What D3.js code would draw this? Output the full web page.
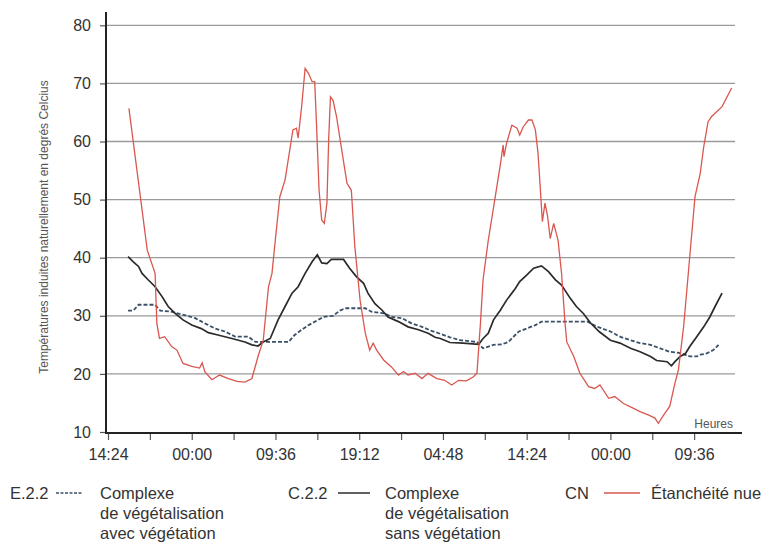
<!DOCTYPE html>
<html>
  <head>
    <meta charset="utf-8">
    <title>Températures induites</title>
    <script src="https://cdnjs.cloudflare.com/ajax/libs/d3/7.8.5/d3.min.js"></script>
    <style>
 body { margin: 0; background: white; }
 text { font-family: "Liberation Sans", Arial, sans-serif; fill: #333; }
 .tick text { font-size: 16px; }
 .grid { stroke: #9a9a9a; stroke-width: 1.3px; }
 .axisline { stroke: #222; stroke-width: 2px; }
 .legend { font-size: 16.5px; }
    </style>
  </head>
  <body>
    <svg id="viz" width="771" height="544"></svg>
    <script>

// time in hours since the first 14:24, temperatures in degrees C

var yTicks = [10, 20, 30, 40, 50, 60, 70, 80];
var xTickHours = [0, 4.8, 9.6, 14.4, 19.2, 24, 28.8, 33.6, 38.4, 43.2, 48, 52.8, 57.6, 62.4, 67.2];
var xTickLabels = ["14:24", "", "00:00", "", "09:36", "", "19:12", "", "04:48", "", "14:24", "", "00:00", "", "09:36"];

// CN - etancheite nue
var cnTime = [2.4, 4.5, 5.4, 5.6, 5.9, 6.5, 7.3, 7.9, 8.6, 9.6, 10.5, 10.8, 11.1, 11.9, 12.8, 13.8, 14.8, 15.7, 16.5, 17.2,
  17.8, 18.4, 18.8, 19.2, 19.7, 20.3, 21.2, 21.6, 21.8, 22.2, 22.6, 23.0, 23.4, 23.7, 23.9, 24.2, 24.5, 24.8, 25.1, 25.3,
  25.5, 25.8, 26.2, 26.8, 27.4, 27.9, 28.3, 28.9, 29.5, 30.0, 30.4, 30.8, 31.6, 32.5, 33.3, 33.9, 34.4, 35.2, 36.0, 36.7,
  37.7, 38.6, 39.4, 40.2, 41.1, 41.9, 42.3, 42.7, 43.0, 43.6, 44.4, 45.0, 45.3, 45.4, 45.7, 46.3, 46.9, 47.2, 47.6, 48.2,
  48.6, 49.0, 49.3, 49.5, 49.8, 50.1, 50.4, 50.7, 51.1, 51.6, 52.0, 52.4, 52.6, 53.4, 54.1, 55.1, 55.8, 56.4, 57.4, 58.1,
  59.1, 60.2, 61.0, 62.0, 62.7, 63.1, 63.7, 64.4, 65.0, 65.4, 66.0, 66.7, 67.3, 67.9, 68.3, 68.8, 69.2, 70.4, 71.5];
var cnTemp = [65.7, 41.3, 37.3, 28.7, 26.1, 26.4, 24.7, 24.1, 21.8, 21.3, 21.0, 21.9, 20.4, 19.0, 19.8, 19.2, 18.7, 18.6, 19.2, 23.0,
  25.8, 35.0, 37.3, 43.3, 50.5, 53.4, 62.0, 62.3, 60.6, 66.0, 72.6, 71.7, 70.3, 70.3, 63.1, 51.6, 46.5, 45.9, 49.4, 60.3,
  67.7, 67.1, 64.3, 58.5, 52.8, 51.6, 41.9, 32.7, 27.0, 24.1, 25.3, 24.1, 22.4, 21.2, 19.8, 20.4, 19.8, 20.1, 19.2, 20.1,
  19.2, 18.9, 18.1, 18.9, 18.8, 19.5, 20.1, 28.7, 36.2, 43.0, 50.5, 56.2, 59.4, 57.4, 59.7, 62.8, 62.3, 61.1, 62.5, 63.7,
  63.7, 62.0, 58.0, 53.4, 46.2, 49.4, 47.1, 43.3, 45.9, 43.0, 37.3, 28.7, 25.5, 23.0, 20.1, 17.8, 17.5, 18.1, 15.8, 16.1,
  14.9, 14.1, 13.5, 12.9, 12.4, 11.5, 12.9, 14.4, 18.4, 20.7, 28.2, 40.2, 50.5, 54.5, 59.1, 63.4, 64.3, 66.0, 69.2];

// C.2.2 - complexe sans vegetation
var c22Time = [2.3, 2.9, 3.5, 3.9, 4.6, 5.4, 6.2, 6.9, 7.7, 8.6, 9.6, 10.7, 11.5, 12.6, 14.2, 15.7, 16.5, 17.2, 17.8, 18.6,
  19.5, 20.3, 21.1, 21.8, 22.6, 23.4, 24.0, 24.5, 25.1, 25.6, 27.0, 27.7, 28.5, 29.3, 29.8, 30.6, 31.4, 32.1, 33.3, 34.4,
  35.6, 36.7, 37.5, 38.1, 39.2, 40.7, 42.5, 43.0, 43.6, 44.2, 45.0, 45.7, 46.7, 47.2, 48.0, 48.8, 49.7, 50.5, 51.3, 52.0,
  53.0, 53.7, 54.5, 55.3, 56.3, 57.6, 58.7, 59.9, 61.0, 62.2, 62.9, 64.1, 64.6, 65.0, 65.6, 66.2, 66.7, 67.5, 68.3, 69.0,
  69.6, 70.4];
var c22Temp = [40.2, 39.3, 38.5, 37.3, 36.2, 35.0, 33.3, 31.6, 30.4, 29.3, 28.4, 27.8, 27.1, 26.7, 26.1, 25.5, 25.0, 24.8, 25.5, 26.1,
  29.3, 31.6, 33.9, 35.0, 37.3, 39.3, 40.5, 39.1, 39.0, 39.7, 39.7, 38.2, 36.7, 35.6, 33.9, 32.1, 31.0, 29.8, 29.0, 28.1,
  27.6, 27.0, 26.3, 26.1, 25.4, 25.3, 25.1, 26.1, 27.0, 29.3, 31.0, 32.7, 34.7, 35.9, 37.0, 38.2, 38.6, 37.6, 36.2, 35.3,
  33.0, 31.6, 30.4, 28.8, 27.3, 25.8, 25.3, 24.4, 23.8, 23.0, 22.3, 22.1, 21.4, 22.1, 23.0, 23.5, 24.7, 26.4, 28.1, 29.8,
  31.6, 33.9];

// E.2.2 - complexe avec vegetation
var e22Time = [2.3, 2.9, 3.5, 5.4, 6.0, 7.3, 8.8, 10.0, 11.1, 12.3, 13.4, 14.6, 16.1, 16.9, 18.0, 20.7, 21.4, 22.2, 23.0, 24.1,
  24.7, 25.8, 26.6, 27.2, 29.5, 30.2, 31.8, 32.5, 33.7, 34.8, 36.0, 37.1, 38.1, 39.2, 40.4, 42.3, 43.0, 44.2, 45.2, 45.9,
  46.5, 47.1, 48.0, 49.0, 49.7, 55.0, 55.7, 56.3, 57.6, 58.7, 59.9, 61.0, 62.2, 63.3, 64.4, 65.6, 66.7, 67.5, 67.9, 68.6,
  69.4, 70.0];
var e22Temp = [30.9, 30.9, 31.9, 31.9, 30.9, 30.7, 30.1, 29.6, 28.7, 27.8, 27.3, 26.4, 26.4, 25.5, 25.5, 25.5, 26.7, 27.6, 28.4, 29.3,
  29.8, 30.0, 30.9, 31.3, 31.3, 30.7, 30.4, 29.8, 29.6, 28.7, 28.1, 27.4, 26.9, 26.3, 25.8, 25.5, 24.4, 25.0, 25.1, 25.5,
  26.4, 27.3, 27.8, 28.4, 29.0, 29.0, 28.4, 28.0, 27.3, 26.4, 25.8, 25.3, 25.0, 24.4, 23.8, 23.6, 23.0, 23.0, 23.3, 23.5,
  24.1, 25.0];

function zip(ts, vs) {
    return ts.map(function(t, i) { return { t: t, v: vs[i] }; });
}

var svg = d3.select("#viz");

var x = d3.scaleLinear().domain([0, 72]).range([108, 736]);
var y = d3.scaleLinear().domain([10, 80]).range([432, 25.3]);

// horizontal grid lines

svg.selectAll(".grid")
    .data(yTicks.slice(1))
    .enter().append("line")
    .attr("class", "grid")
    .attr("x1", 106).attr("x2", 735)
    .attr("y1", function(d) { return y(d); })
    .attr("y2", function(d) { return y(d); });

// axes

svg.append("g")
    .attr("transform", "translate(106,0)")
    .call(d3.axisLeft(y).tickValues(yTicks).tickSize(6).tickPadding(9));

svg.append("g")
    .attr("transform", "translate(0,433)")
    .call(d3.axisBottom(x).tickValues(xTickHours).tickSize(7).tickPadding(9)
          .tickFormat(function(d, i) { return xTickLabels[i]; }));

svg.selectAll(".domain").remove();
svg.selectAll(".tick line").attr("stroke", "#555").attr("stroke-width", 1.2);
svg.selectAll(".tick text").attr("fill", "#333");

svg.append("line").attr("class", "axisline")
    .attr("x1", 106).attr("x2", 106).attr("y1", 12).attr("y2", 433);
svg.append("line").attr("class", "axisline")
    .attr("x1", 105).attr("x2", 742).attr("y1", 433).attr("y2", 433);

svg.append("text")
    .attr("x", 733).attr("y", 428)
    .style("text-anchor", "end")
    .style("font-size", "12px")
    .style("fill", "#555")
    .text("Heures");

svg.append("text")
    .attr("transform", "translate(48,227) rotate(-90)")
    .style("text-anchor", "middle")
    .style("font-size", "12px")
    .style("fill", "#555")
    .text("Températures induites naturellement en degrés Celcius");

// curves

var line = d3.line()
    .x(function(d) { return x(d.t); })
    .y(function(d) { return y(d.v); });

svg.append("path")
    .datum(zip(e22Time, e22Temp))
    .attr("d", line)
    .attr("fill", "none")
    .attr("stroke", "#3b5066")
    .attr("stroke-width", 1.8)
    .attr("stroke-dasharray", "4,2");

svg.append("path")
    .datum(zip(c22Time, c22Temp))
    .attr("d", line)
    .attr("fill", "none")
    .attr("stroke", "#2b2b2b")
    .attr("stroke-width", 1.7);

svg.append("path")
    .datum(zip(cnTime, cnTemp))
    .attr("d", line)
    .attr("fill", "none")
    .attr("stroke", "#d9574f")
    .attr("stroke-width", 1.3);

// legend

var legend = [
    { code: "E.2.2", cx: 10, lx1: 56, lx2: 82, tx: 100, dash: "3,1.5", color: "#3b5066",
      lines: ["Complexe", "de végétalisation", "avec végétation"] },
    { code: "C.2.2", cx: 288, lx1: 338, lx2: 370, tx: 385, dash: null, color: "#2b2b2b",
      lines: ["Complexe", "de végétalisation", "sans végétation"] },
    { code: "CN", cx: 565, lx1: 604, lx2: 640, tx: 651, dash: null, color: "#d9574f",
      lines: ["Étanchéité nue"] }
];

legend.forEach(function(l) {
    svg.append("text").attr("class", "legend")
        .attr("x", l.cx).attr("y", 499).text(l.code);
    svg.append("line")
        .attr("x1", l.lx1).attr("x2", l.lx2).attr("y1", 493).attr("y2", 493)
        .attr("stroke", l.color).attr("stroke-width", 1.5)
        .attr("stroke-dasharray", l.dash);
    l.lines.forEach(function(s, i) {
        svg.append("text").attr("class", "legend")
            .attr("x", l.tx).attr("y", 499 + i * 20).text(s);
    });
});

    </script>
  </body>
</html>
